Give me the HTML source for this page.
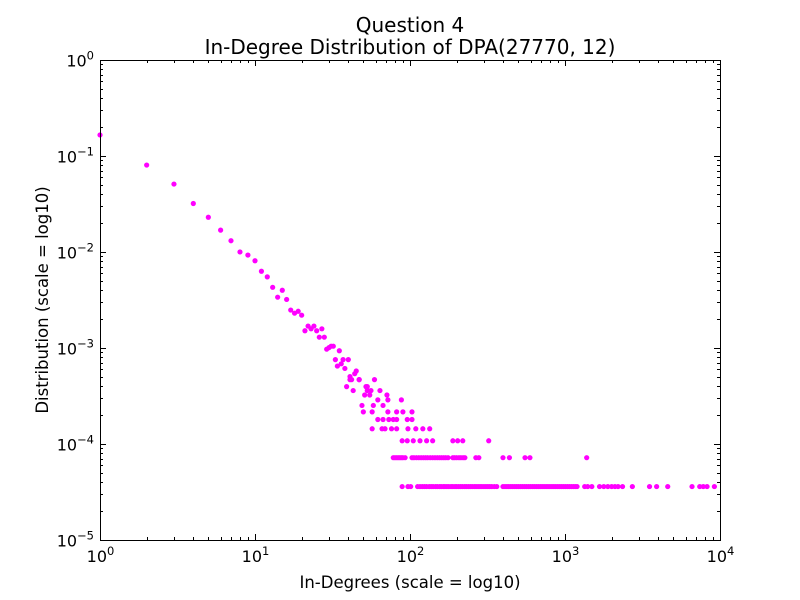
<!DOCTYPE html>
<html><head><meta charset="utf-8">
<style>
html,body{margin:0;padding:0;background:#fff;}
svg{display:block;font-family:"DejaVu Sans","Liberation Sans",sans-serif;}
</style></head>
<body>
<svg id="chart" width="800" height="600" xmlns="http://www.w3.org/2000/svg">
<rect x="0" y="0" width="800" height="600" fill="#fff"/>
<text x="410" y="32" text-anchor="middle" font-size="20">Question 4</text>
<text x="410" y="54" text-anchor="middle" font-size="20">In-Degree Distribution of DPA(27770, 12)</text>
<text x="410" y="588" text-anchor="middle" font-size="16.5">In-Degrees (scale = log10)</text>
<text x="48" y="300" text-anchor="middle" font-size="16.5" transform="rotate(-90 48 300)">Distribution (scale = log10)</text>
<g id="marks"></g>
<g id="axes"></g>
</svg>
<script>
const totalNodes = 27770;
const degrees = [1,2,3,4,5,6,7,8,9,10,11,12,13,14,15,16,17,18,19,20,21,22,23,24,25,26,27,28,29,30,31,32,33,34,35,36,37,38,39,40,41,42,43,44,45,47,
 41,47,59, 52,53,56,64, 53, 51,55,71, 62,72,88, 49,58,67, 50,57,72,82,90,103,
 62,67,73,78,82,96,103, 57,66,69,76,82,97,109,121,134,
 89,96,105,116,128,140,189,203,219,322,
 78,80,82,84,86,88,90,93,103,106,110,114,118,122,126,130,135,140,145,150,155,160,165,170,176,189,194,200,207,213,220,226,266,278,398,438,552,594,1380,
 89,97,101,112,116,120,124,128,133,137,141,146,150,155,159,164,168,173,178,184,189,195,200,206,212,218,225,231,238,245,252,260,267,275,283,291,300,309,318,327,337,350,363,398,410,422,434,447,460,474,488,502,517,532,548,564,581,598,616,634,653,672,692,712,733,755,777,800,824,848,873,899,926,953,981,1010,1040,1070,1102,1134,1165,1196,1340,1400,1490,1670,1780,1890,2000,2100,2200,2350,2720,3510,3900,4600,6600,7400,7800,8250,9200];
const counts = [4600,2235,1416,889,639,469,364,278,258,225,175,153,119,94,111,89,69,64,67,61,42,47,44,47,42,36,44,36,27,28,29,29,21,18,26,19,21,17,11,21,14,13,10,15,16,13,
 13,13,13, 11,10,10,10, 11, 9,9,9, 8,8,8, 7,7,7, 6,6,6,6,6,6,
 5,5,5,5,5,5,5, 4,4,4,4,4,4,4,4,4,
 3,3,3,3,3,3,3,3,3,3,
 2,2,2,2,2,2,2,2,2,2,2,2,2,2,2,2,2,2,2,2,2,2,2,2,2,2,2,2,2,2,2,2,2,2,2,2,2,2,2,
 1,1,1,1,1,1,1,1,1,1,1,1,1,1,1,1,1,1,1,1,1,1,1,1,1,1,1,1,1,1,1,1,1,1,1,1,1,1,1,1,1,1,1,1,1,1,1,1,1,1,1,1,1,1,1,1,1,1,1,1,1,1,1,1,1,1,1,1,1,1,1,1,1,1,1,1,1,1,1,1,1,1,1,1,1,1,1,1,1,1,1,1,1,1,1,1,1,1,1,1,1];
const xTickExps = [0,1,2,3,4];
const yTickExps = [0,-1,-2,-3,-4,-5];

const L=100,R=720,T=60,B=540;
function xs(v){return L+(Math.log10(v)-0)/4*(R-L);}
function ys(v){return T+(0-Math.log10(v))/5*(B-T);}
const NS="http://www.w3.org/2000/svg";
const marks=document.getElementById('marks');
const n=Math.min(degrees.length,counts.length);
for(let i=0;i<n;i++){
  const c=document.createElementNS(NS,'circle');
  c.setAttribute('cx',xs(degrees[i]));
  c.setAttribute('cy',ys(counts[i]/totalNodes));
  c.setAttribute('r',2.6);
  c.setAttribute('fill','#ff00ff');
  
  
  marks.appendChild(c);
}
const axes=document.getElementById('axes');
function line(x1,y1,x2,y2,name){
  const l=document.createElementNS(NS,'line');
  l.setAttribute('x1',x1);l.setAttribute('y1',y1);l.setAttribute('x2',x2);l.setAttribute('y2',y2);
  l.setAttribute('stroke','#000');l.setAttribute('stroke-width',1);
  
  
  axes.appendChild(l);
}
function label(x,y,exp,anchor,name){
  const t=document.createElementNS(NS,'text');
  t.setAttribute('x',x);t.setAttribute('y',y);t.setAttribute('text-anchor',anchor);t.setAttribute('font-size','16');
  
  
  const b=document.createElementNS(NS,'tspan');b.textContent='10';t.appendChild(b);
  const s=document.createElementNS(NS,'tspan');s.setAttribute('dy','-7');s.setAttribute('font-size','11.5');s.textContent=String(exp).replace('-','\u2212');t.appendChild(s);
  axes.appendChild(t);
}
const fr=document.createElementNS(NS,'rect');
fr.setAttribute('x',L+0.5);fr.setAttribute('y',T+0.5);fr.setAttribute('width',R-L);fr.setAttribute('height',B-T);
fr.setAttribute('fill','none');fr.setAttribute('stroke','#000');


axes.appendChild(fr);
xTickExps.forEach(e=>{
  const x=Math.round(xs(Math.pow(10,e)))+0.5;
  line(x,B,x,B-6,'x-major-tick');line(x,T,x,T+6,'x-major-tick');
  label(x,B+22,e,'middle','x-tick-label');
  if(e<4){for(let m=2;m<10;m++){const xm=Math.round(xs(m*Math.pow(10,e)))+0.5;line(xm,B,xm,B-3,'x-minor-tick');line(xm,T,xm,T+3,'x-minor-tick');}}
});
yTickExps.forEach(e=>{
  const y=Math.round(ys(Math.pow(10,e)))+0.5;
  line(L,y,L+6,y,'y-major-tick');line(R,y,R-6,y,'y-major-tick');
  label(L-6,y+6,e,'end','y-tick-label');
  if(e>-5){for(let m=2;m<10;m++){const ym=Math.round(ys(m*Math.pow(10,e-1)))+0.5;line(L,ym,L+3,ym,'y-minor-tick');line(R,ym,R-3,ym,'y-minor-tick');}}
});
</script>
</body></html>
